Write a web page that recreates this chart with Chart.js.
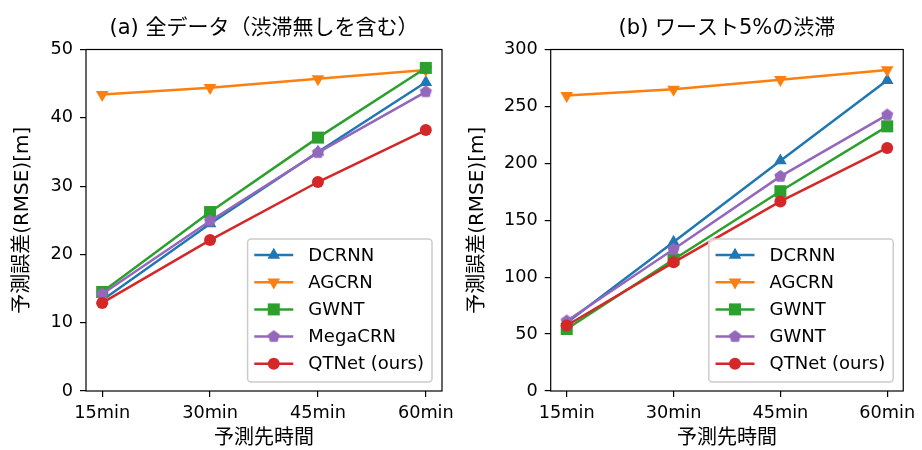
<!DOCTYPE html>
<html>
<head>
<meta charset="utf-8">
<script src="https://cdn.jsdelivr.net/npm/chart.js@4.4.1/dist/chart.umd.min.js"></script>
<style>
body { margin: 0; background: #fff; }
#wrap { position: relative; width: 922px; height: 450px; }
canvas { position: absolute; top: 0; }
</style>
</head>
<body>
<div id="wrap">
    <canvas id="chart-all" width="461" height="450" style="left:0"></canvas>
    <canvas id="chart-worst" width="461" height="450" style="left:461px"></canvas>
</div>
<script>
"use strict";

var horizons = ['15min', '30min', '45min', '60min'];

// (a) all data
var allDcrnn = [13.3, 24.5, 35.0, 45.2];
var allAgcrn = [43.4, 44.4, 45.7, 47.0];
var allGwnt = [14.5, 26.2, 37.1, 47.3];
var allMegacrn = [14.2, 24.9, 34.9, 43.8];
var allQtnet = [12.9, 22.1, 30.6, 38.2];
var allTicks = [0, 10, 20, 30, 40, 50];

// (b) worst 5%
var worstDcrnn = [60.0, 130.8, 202.3, 273.0];
var worstAgcrn = [259.5, 265.0, 273.5, 282.0];
var worstGwnt = [54.5, 115.5, 175.5, 232.5];
var worstGwnt2 = [61.5, 124.5, 188.5, 242.5];
var worstQtnet = [57.5, 113.0, 166.5, 213.5];
var worstTicks = [0, 50, 100, 150, 200, 250, 300];

var FONT = "'DejaVu Sans', 'Noto Sans CJK JP', sans-serif";
var TICK_SIZE = 17.7;
Chart.defaults.font.family = FONT;
Chart.defaults.color = '#000';

function pentagon(color, r) {
    var size = Math.ceil(r * 2 + 2);
    var c = document.createElement('canvas');
    c.width = size;
    c.height = size;
    var ctx = c.getContext('2d');
    ctx.beginPath();
    for (var i = 0; i < 5; i++) {
        var a = -Math.PI / 2 + i * 2 * Math.PI / 5;
        var px = size / 2 + r * Math.cos(a), py = size / 2 + r * Math.sin(a);
        if (i == 0) ctx.moveTo(px, py); else ctx.lineTo(px, py);
    }
    ctx.closePath();
    ctx.fillStyle = color;
    ctx.fill();
    return c;
}

var markers = [
    {color: '#1f77b4', style: 'triangle', radius: 7.3, rotation: 0},
    {color: '#ff7f0e', style: 'triangle', radius: 7.3, rotation: 180},
    {color: '#2ca02c', style: 'rect', radius: 8.5, rotation: 0},
    {color: '#9467bd', style: pentagon('#9467bd', 6.4), radius: 6.4, rotation: 0},
    {color: '#d62728', style: 'circle', radius: 6, rotation: 0}
];

function series(label, values, i) {
    var m = markers[i];
    return {
        label: label,
        data: values.map(function (v, k) { return {x: k, y: v}; }),
        borderColor: m.color,
        backgroundColor: m.color,
        borderWidth: 2.5,
        pointStyle: m.style,
        pointRadius: m.radius,
        pointHoverRadius: m.radius,
        pointRotation: m.rotation,
        pointBorderWidth: 0,
        pointBackgroundColor: m.color,
        tension: 0,
        clip: false,
        order: 4 - i
    };
}

var framePlugin = {
    id: 'frame',
    afterDatasetsDraw: function (chart) {
        var a = chart.chartArea, ctx = chart.ctx;
        ctx.save();
        ctx.strokeStyle = '#000';
        ctx.lineWidth = 1.2;
        ctx.strokeRect(a.left, a.top, a.right - a.left, a.bottom - a.top);
        ctx.restore();
    }
};

var legendPlugin = {
    id: 'boxLegend',
    afterDatasetsDraw: function (chart) {
        var ctx = chart.ctx, a = chart.chartArea;
        var sets = chart.data.datasets;
        var rowH = 27.2, handle = 39, padL = 6.7, gap = 15, padR = 8;
        ctx.save();
        ctx.font = '18px ' + FONT;
        var textW = 0;
        sets.forEach(function (d) { textW = Math.max(textW, ctx.measureText(d.label).width); });
        var w = padL + handle + gap + textW + padR;
        var h = 143;
        var x0 = a.right - 10 - w, y0 = a.bottom - 9 - h, r = 3.5;
        ctx.beginPath();
        ctx.moveTo(x0 + r, y0);
        ctx.arcTo(x0 + w, y0, x0 + w, y0 + h, r);
        ctx.arcTo(x0 + w, y0 + h, x0, y0 + h, r);
        ctx.arcTo(x0, y0 + h, x0, y0, r);
        ctx.arcTo(x0, y0, x0 + w, y0, r);
        ctx.closePath();
        ctx.fillStyle = 'rgba(255,255,255,0.8)';
        ctx.fill();
        ctx.strokeStyle = '#cccccc';
        ctx.lineWidth = 1.5;
        ctx.stroke();
        sets.forEach(function (d, i) {
            var y = y0 + 16 + i * rowH;
            var hx = x0 + padL;
            ctx.strokeStyle = d.borderColor;
            ctx.lineWidth = d.borderWidth;
            ctx.beginPath();
            ctx.moveTo(hx, y);
            ctx.lineTo(hx + handle, y);
            ctx.stroke();
            ctx.fillStyle = d.pointBackgroundColor;
            Chart.helpers.drawPoint(ctx, {
                pointStyle: d.pointStyle,
                rotation: d.pointRotation,
                radius: d.pointRadius,
                borderWidth: 0
            }, hx + handle / 2, y);
            ctx.fillStyle = '#000';
            ctx.textBaseline = 'middle';
            ctx.textAlign = 'left';
            ctx.fillText(d.label, hx + handle + gap, y + 1);
        });
        ctx.restore();
    }
};

function makeChart(id, title, datasets, yMax, yTicks, yWidth, padRight, yTitlePad) {
    return new Chart(document.getElementById(id), {
        type: 'line',
        data: {datasets: datasets},
        plugins: [framePlugin, legendPlugin],
        options: {
            responsive: false,
            animation: false,
            devicePixelRatio: 1,
            layout: {padding: {left: 0, right: padRight, top: 0, bottom: 0}},
            plugins: {
                legend: {display: false},
                tooltip: {enabled: false},
                title: {
                    display: true,
                    fullSize: false,
                    text: title,
                    color: '#000',
                    font: {size: 21, weight: 'normal'},
                    padding: {top: 15.5, bottom: 8.8}
                }
            },
            scales: {
                x: {
                    type: 'linear',
                    min: -0.15,
                    max: 3.15,
                    afterBuildTicks: function (s) {
                        s.ticks = horizons.map(function (h, i) { return {value: i}; });
                    },
                    afterFit: function (s) { s.height = 59; },
                    ticks: {
                        callback: function (v) { return horizons[v]; },
                        font: {size: TICK_SIZE},
                        color: '#000',
                        padding: 6,
                        maxRotation: 0,
                        autoSkip: false
                    },
                    grid: {drawOnChartArea: false, tickLength: 6, color: '#000', lineWidth: 1.2},
                    border: {display: false},
                    title: {display: true, text: '予測先時間', color: '#000', font: {size: 20, lineHeight: 1}, padding: {top: 0, bottom: 1}}
                },
                y: {
                    min: 0,
                    max: yMax,
                    afterBuildTicks: function (s) {
                        s.ticks = yTicks.map(function (v) { return {value: v}; });
                    },
                    afterFit: function (s) { s.width = yWidth; },
                    ticks: {font: {size: TICK_SIZE}, color: '#000', padding: 7},
                    grid: {drawOnChartArea: false, tickLength: 6, color: '#000', lineWidth: 1.2},
                    border: {display: false},
                    title: {display: true, text: '予測誤差(RMSE)[m]', color: '#000', font: {size: 20, lineHeight: 1}, padding: {top: yTitlePad, bottom: 0}}
                }
            }
        }
    });
}

makeChart('chart-all', '(a) 全データ（渋滞無しを含む）', [
    series('DCRNN', allDcrnn, 0),
    series('AGCRN', allAgcrn, 1),
    series('GWNT', allGwnt, 2),
    series('MegaCRN', allMegacrn, 3),
    series('QTNet (ours)', allQtnet, 4)
], 50, allTicks, 86, 19, 12.5);

makeChart('chart-worst', '(b) ワースト5%の渋滞', [
    series('DCRNN', worstDcrnn, 0),
    series('AGCRN', worstAgcrn, 1),
    series('GWNT', worstGwnt, 2),
    series('GWNT', worstGwnt2, 3),
    series('QTNet (ours)', worstQtnet, 4)
], 300, worstTicks, 89.7, 15.3, 6.5);
</script>
</body>
</html>
